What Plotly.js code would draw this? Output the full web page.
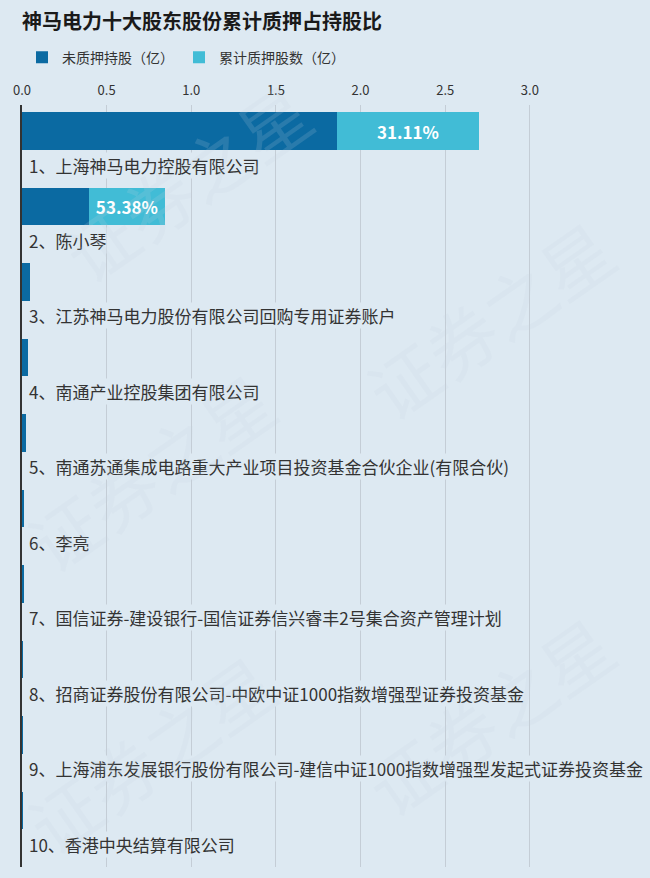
<!DOCTYPE html>
<html>
<head>
<meta charset="utf-8">
<script src="https://cdn.plot.ly/plotly-3.0.1.min.js"></script>
<style>
html,body{margin:0;padding:0;background:#dde9f2;}
#chart{width:650px;height:878px;}
</style>
</head>
<body>
<div id="chart"></div>
<script>
var holders = [
  "1、上海神马电力控股有限公司",
  "2、陈小琴",
  "3、江苏神马电力股份有限公司回购专用证券账户",
  "4、南通产业控股集团有限公司",
  "5、南通苏通集成电路重大产业项目投资基金合伙企业(有限合伙)",
  "6、李亮",
  "7、国信证券-建设银行-国信证券信兴睿丰2号集合资产管理计划",
  "8、招商证券股份有限公司-中欧中证1000指数增强型证券投资基金",
  "9、上海浦东发展银行股份有限公司-建信中证1000指数增强型发起式证券投资基金",
  "10、香港中央结算有限公司"
];
var unpledged = [1.86, 0.394, 0.047, 0.035, 0.024, 0.012, 0.011, 0.006, 0.005, 0.004];
var pledged   = [0.84, 0.451, 0, 0, 0, 0, 0, 0, 0, 0];
var pledgeRatio = ["31.11%", "53.38%", "", "", "", "", "", "", "", ""];
var xTicks = [0, 0.5, 1.0, 1.5, 2.0, 2.5, 3.0];
var xTickText = ["0.0", "0.5", "1.0", "1.5", "2.0", "2.5", "3.0"];

var FONT = "'Noto Sans CJK SC', 'Noto Sans', sans-serif";
var BG = "#dde9f2";
var pos = holders.map(function(_, i){ return i; });

var traces = [
  {
    type: "bar", orientation: "h", name: "未质押持股（亿）",
    y: pos, x: unpledged, width: 0.5,
    marker: {color: "#0b6aa2"}, hoverinfo: "x"
  },
  {
    type: "bar", orientation: "h", name: "累计质押股数（亿）",
    y: pos, x: pledged, width: 0.5,
    marker: {color: "#41bcd6"},
    text: pledgeRatio, textposition: "inside", insidetextanchor: "middle",
    textfont: {color: "#ffffff", size: 17, family: FONT, weight: "bold"},
    constraintext: "none", hoverinfo: "x"
  }
];

var annotations = holders.map(function(h, i){
  return {
    xref: "x", yref: "y", x: 0, y: i + 0.45, text: h,
    xanchor: "left", yanchor: "middle", xshift: 6, showarrow: false,
    font: {size: 17, color: "#333333", family: FONT},
    bgcolor: BG, borderpad: 0
  };
});

var wm = [
  {x: 0.28, y: 0.9}, {x: 0.8, y: 0.72},
  {x: 0.22, y: 0.52}, {x: 0.22, y: 0.15}, {x: 0.8, y: 0.2}
];
wm.forEach(function(p){
  annotations.push({
    xref: "paper", yref: "paper", x: p.x, y: p.y, text: "证券之星",
    xanchor: "center", yanchor: "middle", showarrow: false, textangle: -35,
    font: {size: 70, color: "rgba(200,212,224,0.16)", family: FONT}
  });
});

var layout = {
  width: 650, height: 878,
  paper_bgcolor: BG, plot_bgcolor: BG,
  margin: {l: 22, r: 44, t: 105, b: 11},
  barmode: "stack", bargap: 0.5,
  showlegend: true,
  title: {
    text: "神马电力十大股东股份累计质押占持股比",
    x: 22 / 650, xref: "container", xanchor: "left",
    y: 1 - 22 / 878, yref: "container", yanchor: "middle",
    font: {size: 20, color: "#1a1a1a", family: FONT, weight: "bold"}
  },
  legend: {
    orientation: "h", x: 0.0, xanchor: "left", y: 1.062, yanchor: "middle",
    font: {size: 14, color: "#333333", family: FONT},
    bgcolor: "rgba(0,0,0,0)", itemwidth: 30, traceorder: "normal"
  },
  xaxis: {
    side: "top", range: [0, 3.45],
    tickvals: xTicks, ticktext: xTickText,
    tickfont: {size: 13, color: "#333333", family: FONT},
    showgrid: true, gridcolor: "#c4cdd6", gridwidth: 1,
    zeroline: false, showline: false, ticks: "", ticklabelstandoff: 6
  },
  yaxis: {
    range: [9.75, -0.345], showticklabels: false, showgrid: false,
    zeroline: false, showline: true, linecolor: "#333333", linewidth: 2,
    ticks: ""
  },
  annotations: annotations,
  font: {family: FONT}
};

Plotly.newPlot("chart", traces, layout, {displayModeBar: false, staticPlot: true});
</script>
</body>
</html>
